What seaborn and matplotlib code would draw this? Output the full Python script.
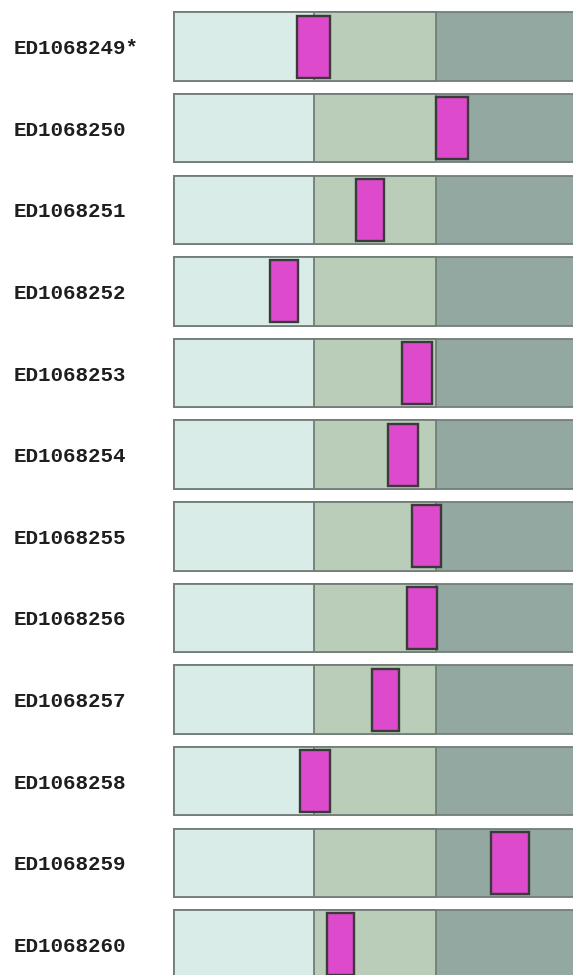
import numpy as np
import pandas as pd
import seaborn as sns
import matplotlib
matplotlib.use('Agg')
import matplotlib.pyplot as plt

# sample ids (top to bottom)
samples = ['ED1068249*', 'ED1068250', 'ED1068251', 'ED1068252', 'ED1068253', 'ED1068254',
           'ED1068255', 'ED1068256', 'ED1068257', 'ED1068258', 'ED1068259', 'ED1068260']
# band limits on the score scale (low / mid / high range)
band_low = 140
band_mid = 262
band_high = 420
# marker ranges for each sample
marker_lo = [123, 262, 182, 96, 228, 214, 238, 233, 198, 126, 318, 153]
marker_hi = [156, 295, 210, 124, 258, 244, 268, 263, 225, 156, 356, 180]

df = pd.DataFrame({'sample': samples,
                   'low': band_low, 'mid': band_mid, 'high': band_high,
                   'lo': marker_lo, 'hi': marker_hi})

sns.set_style('white')
plt.rcParams['font.family'] = ['Liberation Mono', 'DejaVu Sans Mono']

fig = plt.figure(figsize=(5.73, 9.75), dpi=100)
ax = fig.add_axes([173 / 573, 0, 1 - 173 / 573, 1])

band_edge = '#727d78'
# stacked background bands: draw widest first
sns.barplot(data=df, x='high', y='sample', orient='h', color='#93a8a0', saturation=1,
            width=0.84, edgecolor=band_edge, linewidth=1.3, ax=ax)
sns.barplot(data=df, x='mid', y='sample', orient='h', color='#bacdb8', saturation=1,
            width=0.84, edgecolor=band_edge, linewidth=1.3, ax=ax)
sns.barplot(data=df, x='low', y='sample', orient='h', color='#d9ece7', saturation=1,
            width=0.84, edgecolor=band_edge, linewidth=1.3, ax=ax)

# marker boxes
ypos = np.arange(len(samples))
ax.barh(ypos, df['hi'] - df['lo'], left=df['lo'], height=0.76,
        color='#dd4bcc', edgecolor='#3a3a3a', linewidth=1.7, zorder=5)

ax.set_xlim(-1.5, 400)
ax.set_ylim(11.374, -0.57)
ax.set_xlabel('')
ax.set_ylabel('')
ax.set_xticks([])
for s in ax.spines.values():
    s.set_visible(False)
ax.tick_params(axis='y', length=0, pad=115)
for lbl in ax.get_yticklabels():
    lbl.set_horizontalalignment('left')
    lbl.set_fontweight('bold')
    lbl.set_fontsize(15)
    lbl.set_color('#1e1e1e')

fig.savefig('out.png', dpi=100)
